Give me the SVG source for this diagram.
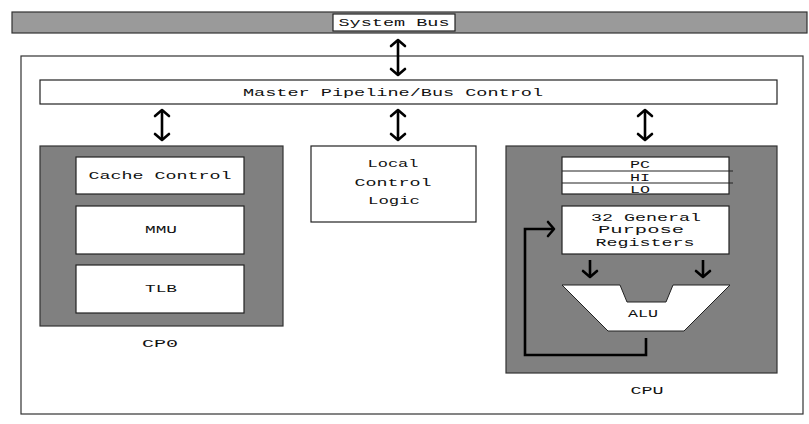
<svg xmlns="http://www.w3.org/2000/svg" width="809" height="424" viewBox="0 0 809 424">
<defs>
<style>
.t{font-family:"Liberation Mono","Courier New",monospace;font-size:11px;fill:#111;text-anchor:middle}
.b{font-weight:bold}
.box{fill:#fff;stroke:#222;stroke-width:1.2}
.gray{fill:#808080;stroke:#333;stroke-width:1.2}
.con{fill:none;stroke:#000;stroke-width:2.6}
.arr{marker-start:url(#ah);marker-end:url(#ah)}
.one{marker-end:url(#ah)}
</style>
<marker id="ah" viewBox="-10 -10 20 20" markerWidth="20" markerHeight="20" markerUnits="userSpaceOnUse" refX="0" refY="0" orient="auto-start-reverse">
<path d="M-6,-7 L0,0 L-6,7" fill="none" stroke="#000" stroke-width="2.6" stroke-linejoin="round" stroke-linecap="round"/>
</marker>
</defs>
<rect width="809" height="424" fill="#fff"/>

<g id="system-bus">
<rect x="12" y="12" width="795" height="21" fill="#9a9a9a" stroke="#333" stroke-width="1.2"/>
<rect x="333" y="14" width="122" height="17" class="box"/>
<text class="t" x="394" y="26" textLength="111" lengthAdjust="spacingAndGlyphs">System Bus</text>
</g>

<g id="outer">
<rect x="21" y="56" width="782" height="358" fill="none" stroke="#333" stroke-width="1.2"/>
</g>

<g id="master">
<rect x="40" y="80" width="737" height="24" class="box"/>
<text class="t" x="393" y="96" textLength="300" lengthAdjust="spacingAndGlyphs">Master Pipeline/Bus Control</text>
</g>

<g id="cp0">
<rect x="40" y="146" width="243" height="180" class="gray"/>
<rect x="76" y="157" width="168" height="37" class="box"/>
<text class="t" x="160" y="179" textLength="143" lengthAdjust="spacingAndGlyphs">Cache Control</text>
<rect x="76" y="206" width="168" height="48" class="box"/>
<text class="t" x="161" y="233" textLength="32" lengthAdjust="spacingAndGlyphs">MMU</text>
<rect x="76" y="265" width="168" height="48" class="box"/>
<text class="t" x="161" y="292" textLength="32" lengthAdjust="spacingAndGlyphs">TLB</text>
<text class="t" x="160" y="347" textLength="36" lengthAdjust="spacingAndGlyphs">CP0</text>
</g>

<g id="local-control">
<rect x="311" y="146" width="165" height="76" class="box"/>
<text class="t" x="393" y="167" textLength="51" lengthAdjust="spacingAndGlyphs">Local</text>
<text class="t" x="393" y="186" textLength="77" lengthAdjust="spacingAndGlyphs">Control</text>
<text class="t" x="394" y="204" textLength="52" lengthAdjust="spacingAndGlyphs">Logic</text>
</g>

<g id="cpu">
<rect x="506" y="146" width="271" height="227" class="gray"/>
<rect x="562" y="157" width="167" height="37" class="box"/>
<line x1="562" y1="171" x2="733" y2="171" stroke="#222" stroke-width="1.2"/>
<line x1="562" y1="183" x2="733" y2="183" stroke="#222" stroke-width="1.2"/>
<text class="t" x="640" y="168" font-size="10" textLength="20" lengthAdjust="spacingAndGlyphs">PC</text>
<text class="t" x="640" y="181" font-size="10" textLength="20" lengthAdjust="spacingAndGlyphs">HI</text>
<text class="t" x="640" y="192.5" font-size="10" textLength="20" lengthAdjust="spacingAndGlyphs">LO</text>
<rect x="562" y="206" width="167" height="48" class="box"/>
<text class="t" x="646" y="221" textLength="110" lengthAdjust="spacingAndGlyphs">32 General</text>
<text class="t" x="641" y="233" textLength="86" lengthAdjust="spacingAndGlyphs">Purpose</text>
<text class="t" x="645" y="246" textLength="99" lengthAdjust="spacingAndGlyphs">Registers</text>
<g id="alu">
<polygon points="562,285 620,285 627,302 666,302 673,285 730,285 684,331 608,331" fill="#fff" stroke="#222" stroke-width="1"/>
<text class="t" x="643" y="317" textLength="30" lengthAdjust="spacingAndGlyphs">ALU</text>
</g>
<text class="t" x="647" y="394" textLength="33" lengthAdjust="spacingAndGlyphs">CPU</text>
</g>

<g id="connectors">
<line x1="398" y1="40" x2="398" y2="75" class="con arr"/>
<line x1="162" y1="110" x2="162" y2="140" class="con arr"/>
<line x1="398" y1="110" x2="398" y2="140" class="con arr"/>
<line x1="645" y1="110" x2="645" y2="140" class="con arr"/>
<line x1="590" y1="260" x2="590" y2="277" class="con one"/>
<line x1="703" y1="260" x2="703" y2="277" class="con one"/>
<polyline points="646,338 646,355 525,355 525,229 554,229" class="con one" stroke-linejoin="miter"/>
</g>
</svg>
